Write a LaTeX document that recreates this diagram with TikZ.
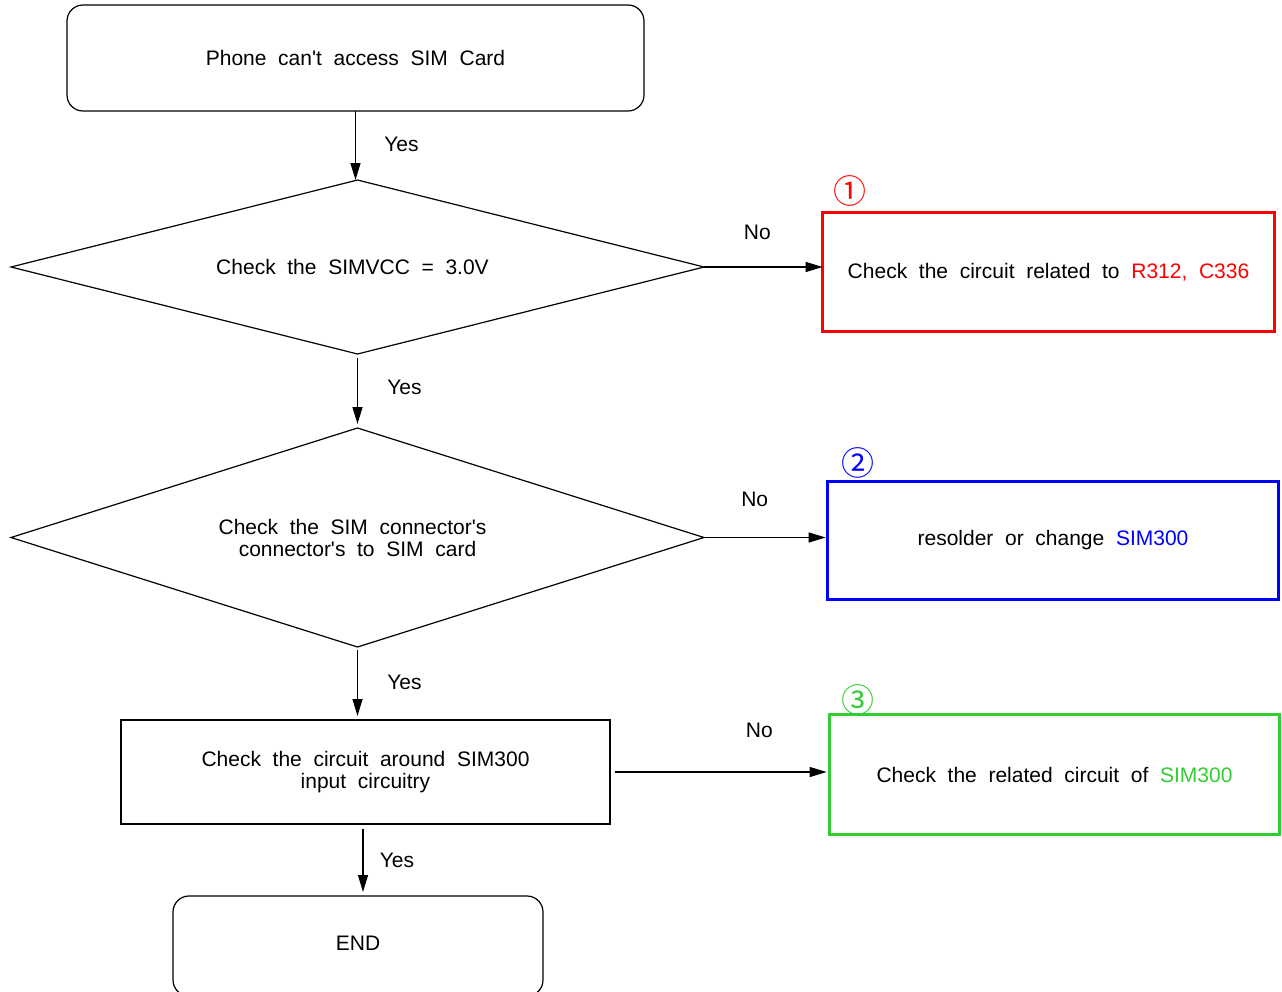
\documentclass[tikz,border=0pt]{standalone}
\usepackage{fontspec}
\setmainfont{Liberation Sans}[WordSpace=2,Ligatures=TeXOff]
\newfontfamily\circfont{Noto Sans CJK KR}
\usetikzlibrary{shapes.geometric,arrows.meta,calc}
\definecolor{myred}{RGB}{255,0,0}
\definecolor{myblue}{RGB}{0,0,255}
\definecolor{mygreen}{RGB}{51,204,51}
\begin{document}
\begin{tikzpicture}[x=1pt,y=-1pt,
  base/.style={font=\fontsize{21}{22}\selectfont, align=center, outer sep=0pt, inner sep=0pt, line width=1.2pt},
  rbox/.style={base, draw, rounded corners=16pt},
  pbox/.style={base, draw},
  dia/.style={base, draw, diamond},
  cbox/.style={base, draw, line width=3.3pt},
  lbl/.style={font=\fontsize{21}{22}\selectfont, inner sep=0pt},
  arr/.style={line width=1.2pt, -{Triangle[length=17pt,width=10pt]}},
  num/.style={font=\circfont\fontsize{33}{33}\selectfont, inner sep=0pt}]
\useasboundingbox[fill=white] (0,0) rectangle (1282,991);

\node[rbox, minimum width=577pt, minimum height=106pt] (start) at (355.5,58) {Phone can't access SIM Card};
\node[dia, aspect=3.983, minimum width=693pt, minimum height=174pt] (d1) at (357.5,267) {Check the SIMVCC = 3.0V\hspace*{10pt}};
\node[dia, aspect=3.164, minimum width=693pt, minimum height=219pt] (d2) at (357.5,537.5) {Check the SIM connector's\hspace*{10pt}\\connector's to SIM card};
\node[pbox, minimum width=489pt, minimum height=104pt] (b3) at (365.5,772) {Check the circuit around SIM300\\input circuitry};
\node[rbox, minimum width=370pt, minimum height=100pt, text depth=6pt] (endn) at (358,946) {END};

\node[cbox, draw=myred, minimum width=451.7pt, minimum height=118.7pt] (r) at (1048.5,272) {Check the circuit related to \textcolor{myred}{R312, C336}};
\node[cbox, draw=myblue, minimum width=450.7pt, minimum height=117.7pt] (bl) at (1053,540.5) {resolder or change \textcolor{myblue}{SIM300}};
\node[cbox, draw=mygreen, minimum width=449.7pt, minimum height=119.7pt] (g) at (1054.5,774.5) {Check the related circuit of \textcolor{mygreen}{SIM300}};

\node[num, text=myred] (n1) at ([xshift=27pt,yshift=22pt]r.north west) {①};
\node[num, text=myblue] (n2) at ([xshift=30pt,yshift=19pt]bl.north west) {②};
\node[num, text=mygreen] (n3) at ([xshift=28pt,yshift=15pt]g.north west) {③};

\draw[arr] (start.south) -- (start.south |- d1.north) node[lbl,pos=0.48,xshift=46pt]{Yes};
\draw[arr, shorten <=4pt, shorten >=4pt] (d1.south) -- (d2.north) node[lbl,pos=0.446,xshift=47pt]{Yes};
\draw[arr, shorten <=3pt, shorten >=4pt] (d2.south) -- (d2.south |- b3.north) node[lbl,pos=0.49,xshift=47pt]{Yes};
\draw[arr, shorten <=5pt, shorten >=4pt] ([xshift=-2.5pt]b3.south) -- ([xshift=-2.5pt]b3.south |- endn.north) node[lbl,pos=0.51,xshift=34pt]{Yes};

\draw[arr] (d1.east) -- (d1.east -| r.west) node[lbl,pos=0.45,yshift=35pt]{No};
\draw[arr, shorten >=2pt] (d2.east) -- (d2.east -| bl.west) node[lbl,pos=0.41,yshift=38pt]{No};
\draw[arr, shorten <=5pt, shorten >=3pt] (b3.east) -- (b3.east -| g.west) node[lbl,pos=0.68,yshift=42pt]{No};
\end{tikzpicture}
\end{document}
